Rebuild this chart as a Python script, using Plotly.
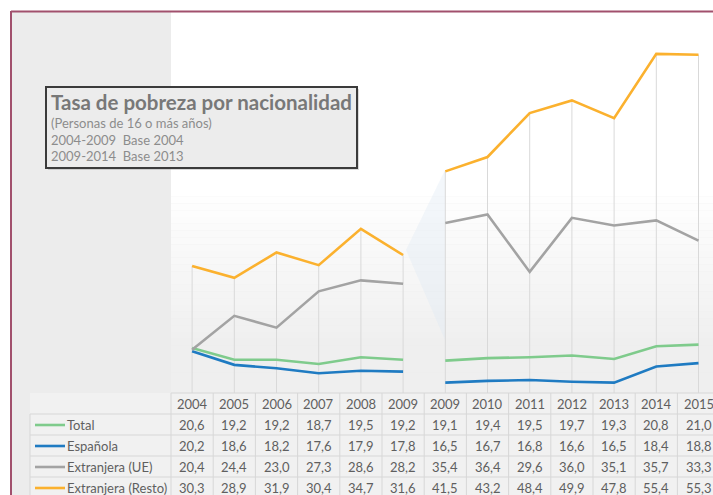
import plotly.graph_objects as go

# ---------------- data ----------------
years = ["2004", "2005", "2006", "2007", "2008", "2009",
         "2009", "2010", "2011", "2012", "2013", "2014", "2015"]
series_names = ["Total", "Española", "Extranjera (UE)", "Extranjera (Resto)"]
total = [20.6, 19.2, 19.2, 18.7, 19.5, 19.2, 19.1, 19.4, 19.5, 19.7, 19.3, 20.8, 21.0]
espanola = [20.2, 18.6, 18.2, 17.6, 17.9, 17.8, 16.5, 16.7, 16.8, 16.6, 16.5, 18.4, 18.8]
extranjera_ue = [20.4, 24.4, 23.0, 27.3, 28.6, 28.2, 35.4, 36.4, 29.6, 36.0, 35.1, 35.7, 33.3]
extranjera_resto = [30.3, 28.9, 31.9, 30.4, 34.7, 31.6, 41.5, 43.2, 48.4, 49.9, 47.8, 55.4, 55.3]
base_break = 6  # index where the 2013 base starts

title_lines = ["Tasa de pobreza por nacionalidad",
               "(Personas de 16 o más años)",
               "2004-2009\u00a0\u00a0Base 2004",
               "2009-2014\u00a0\u00a0Base 2013"]

colors = ["#7fcb8c", "#1f7bc2", "#a3a3a3", "#fbb12e"]
all_series = [total, espanola, extranjera_ue, extranjera_resto]

# ---------------- geometry ----------------
FW, FH = 713, 495
L, T, B = 171, 12, 102
PW = FW - L
PH = FH - T - B
STEP = 42.2
xr = [-0.5, -0.5 + PW / STEP]
yr = [15.27, 60.36]


def px(xp):
    return (xp - L) / PW


def py(yp):
    return (FH - B - yp) / PH


fig = go.Figure()

# drop lines from the highest value down to the axis
n = len(years)
dx, dy = [], []
for i in range(n):
    top = max(s[i] for s in all_series)
    dx += [i, i, None]
    dy += [top, yr[0], None]
fig.add_trace(go.Scatter(x=dx, y=dy, mode="lines", line=dict(color="#d9d9d9", width=1),
                         hoverinfo="skip", showlegend=False))

# series lines (two segments, gap between bases)
xs = list(range(n))
for name, vals, col in zip(series_names, all_series, colors):
    xx = xs[:base_break] + [None] + xs[base_break:]
    yy = vals[:base_break] + [None] + vals[base_break:]
    fig.add_trace(go.Scatter(x=xx, y=yy, mode="lines", name=name,
                             line=dict(color=col, width=2.6), connectgaps=False,
                             showlegend=False))

shapes = []
# overall grey background
shapes.append(dict(type="rect", xref="paper", yref="paper", x0=px(12), x1=px(FW + 5),
                   y0=py(12), y1=py(FH + 5), fillcolor="#ececec", line_width=0, layer="below"))
# plot-area gradient (white at top, light grey at bottom)
shapes.append(dict(type="rect", xref="paper", yref="paper", x0=0, x1=1.01,
                   y0=py(190), y1=1, fillcolor="#ffffff", line_width=0, layer="below"))
NS = 30
for k in range(NS):
    y0p = 190 + k * (393 - 190) / NS
    y1p = 190 + (k + 1) * (393 - 190) / NS
    t = (k + 0.5) / NS
    t = min(1.0, t * 1.3)
    c = int(round(255 - (255 - 239) * t))
    shapes.append(dict(type="rect", xref="paper", yref="paper", x0=0, x1=1.01,
                       y0=py(y1p), y1=py(y0p), fillcolor=f"rgb({c},{c},{c})",
                       line_width=0, layer="below"))
# table background
shapes.append(dict(type="rect", xref="paper", yref="paper", x0=px(30), x1=1.01,
                   y0=py(FH + 5), y1=py(393), fillcolor="#f1f1f1", line_width=0, layer="below"))
# faint blue shading artifact near 2009 break
shapes.append(dict(type="path", xref="paper", yref="paper",
                   path=f"M {px(406)} {py(250)} L {px(445)} {py(170)} L {px(445)} {py(340)} Z",
                   fillcolor="rgba(220,231,244,0.35)", line_width=0, layer="below"))

# border (top and left)
shapes.append(dict(type="line", xref="paper", yref="paper", x0=px(11), x1=px(FW + 5),
                   y0=py(11.5), y1=py(11.5), line=dict(color="#a1506d", width=2)))
shapes.append(dict(type="line", xref="paper", yref="paper", x0=px(11), x1=px(11),
                   y0=py(11), y1=py(FH + 5), line=dict(color="#a1506d", width=2)))

# table grid
grid = "#d7d7d7"
shapes.append(dict(type="line", xref="paper", yref="paper", x0=px(L), x1=1.01,
                   y0=py(393), y1=py(393), line=dict(color=grid, width=1)))
row_lines = [414, 435, 456, 477]
for yl in row_lines:
    shapes.append(dict(type="line", xref="paper", yref="paper", x0=px(30), x1=1.01,
                       y0=py(yl), y1=py(yl), line=dict(color=grid, width=1)))
for k in range(n + 1):
    xl = L + k * STEP
    shapes.append(dict(type="line", xref="paper", yref="paper", x0=px(xl), x1=px(xl),
                       y0=py(393), y1=py(FH + 5), line=dict(color=grid, width=1)))
shapes.append(dict(type="line", xref="paper", yref="paper", x0=px(30), x1=px(30),
                   y0=py(414), y1=py(FH + 5), line=dict(color=grid, width=1)))

# title box
shapes.append(dict(type="rect", xref="paper", yref="paper", x0=px(48), x1=px(359),
                   y0=py(170), y1=py(89), fillcolor="rgba(150,150,150,0.35)", line_width=0))
shapes.append(dict(type="rect", xref="paper", yref="paper", x0=px(46), x1=px(357),
                   y0=py(168), y1=py(87), fillcolor="#ececec",
                   line=dict(color="#3b3b3b", width=2)))

annotations = []
font_fam = "Lato, 'Open Sans', sans-serif"
txt_col = "#5f5f5f"

# title texts
annotations.append(dict(xref="paper", yref="paper", x=px(49), y=py(102), xanchor="left",
                        yanchor="middle", showarrow=False, text=f"<b>{title_lines[0]}</b>",
                        font=dict(family=font_fam, size=20.5, color="#787878")))
for j, ln in enumerate(title_lines[1:]):
    annotations.append(dict(xref="paper", yref="paper", x=px(49), y=py(123 + j * 16.5),
                            xanchor="left", yanchor="middle", showarrow=False, text=ln,
                            font=dict(family=font_fam, size=13, color="#8c8c8c")))

# table header (years)
row_centers = [404, 425, 446, 467, 488]
fs = 13
for i, yv in enumerate(years):
    annotations.append(dict(xref="x", yref="paper", x=i, y=py(row_centers[0]),
                            xanchor="center", yanchor="middle", showarrow=False, text=yv,
                            font=dict(family=font_fam, size=fs, color=txt_col)))
# table rows
for r, (name, vals, col) in enumerate(zip(series_names, all_series, colors)):
    yc = row_centers[r + 1]
    shapes.append(dict(type="line", xref="paper", yref="paper", x0=px(35), x1=px(65),
                       y0=py(yc), y1=py(yc), line=dict(color=col, width=2.6)))
    annotations.append(dict(xref="paper", yref="paper", x=px(65), y=py(yc), xanchor="left",
                            yanchor="middle", showarrow=False, text=name,
                            font=dict(family=font_fam, size=fs, color=txt_col)))
    for i, v in enumerate(vals):
        annotations.append(dict(xref="x", yref="paper", x=i, y=py(yc), xanchor="center",
                                yanchor="middle", showarrow=False,
                                text=f"{v:.1f}".replace(".", ","),
                                font=dict(family=font_fam, size=fs, color=txt_col)))

fig.update_layout(
    width=FW, height=FH,
    margin=dict(l=L, r=0, t=T, b=B, pad=0),
    paper_bgcolor="#ffffff", plot_bgcolor="rgba(0,0,0,0)",
    xaxis=dict(range=xr, visible=False, fixedrange=True),
    yaxis=dict(range=yr, visible=False, fixedrange=True),
    shapes=shapes, annotations=annotations, showlegend=False,
)

fig.write_html("out.html", config={"displayModeBar": False},
               post_script="document.body.style.margin='0';document.body.style.overflow='hidden';")
